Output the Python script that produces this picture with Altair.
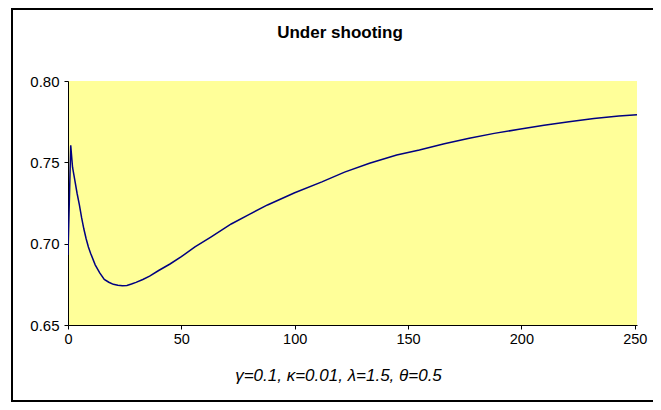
import altair as alt
import pandas as pd

# ---- data ----
t_vals = [0, 1.2, 2, 3, 4, 5, 6, 7, 8, 9, 10, 12, 14, 16, 18, 20, 22, 24, 26, 28,
          30, 33, 36, 40, 45, 50, 56, 63, 72, 80, 88, 100, 112, 122, 133, 145,
          155, 166, 177, 188, 199, 210, 221, 232, 243, 251]
v_vals = [0.693, 0.7605, 0.747, 0.739, 0.731, 0.724, 0.716, 0.709, 0.703, 0.698,
          0.694, 0.687, 0.682, 0.678, 0.6763, 0.675, 0.6744, 0.6741, 0.6743, 0.6752,
          0.6762, 0.678, 0.680, 0.6835, 0.6875, 0.692, 0.698, 0.704, 0.7121, 0.718,
          0.7238, 0.7313, 0.738, 0.744, 0.7494, 0.7545, 0.7576, 0.7614, 0.7648,
          0.7678, 0.7703, 0.7728, 0.7750, 0.7769, 0.7785, 0.7792]

chart_title = "Under shooting"
x_title = "γ=0.1, κ=0.01, λ=1.5, θ=0.5"
x_ticks = [0, 50, 100, 150, 200, 250]
y_ticks = [0.65, 0.70, 0.75, 0.80]

FONT = "Liberation Sans"

df = pd.DataFrame({"t": t_vals, "v": v_vals})

line = alt.Chart(df).mark_line(color="#000080", strokeWidth=1.5, clip=True).encode(
    x=alt.X(
        "t:Q",
        scale=alt.Scale(domain=[0, 251], nice=False, zero=False),
        axis=alt.Axis(
            values=x_ticks, format="d", title=x_title, grid=False,
            labelFont=FONT, labelFontSize=14.5, labelColor="black",
            labelPadding=3, labelFlush=False,
            tickColor="black", tickSize=4, domainColor="black",
            titleFont=FONT, titleFontSize=17, titleFontStyle="italic",
            titleFontWeight="normal", titleColor="black",
            titleX=270, titleY=42, titleBaseline="top",
        ),
    ),
    y=alt.Y(
        "v:Q",
        scale=alt.Scale(domain=[0.65, 0.80], nice=False, zero=False),
        axis=alt.Axis(
            values=y_ticks, format=".2f", title=None, grid=False,
            labelFont=FONT, labelFontSize=15, labelColor="black",
            labelPadding=5, labelFlush=False,
            tickColor="black", tickSize=4, domainColor="black",
        ),
    ),
)

one_row = alt.Data(values=[{"a": 1}])

border = alt.Chart(one_row).mark_rect(
    fillOpacity=0, stroke="black", strokeWidth=2
).encode(
    x=alt.value(-56), x2=alt.value(700), y=alt.value(-72), y2=alt.value(320)
)

title_mark = alt.Chart(one_row).mark_text(
    text=chart_title, font=FONT, fontSize=17, fontWeight="bold",
    color="black", align="center", baseline="alphabetic"
).encode(x=alt.value(272), y=alt.value(-43))

chart = alt.layer(border, title_mark, line).properties(
    width=569,
    height=244,
    autosize=alt.AutoSizeParams(type="none"),
    padding={"left": 60, "top": 73, "right": 16, "bottom": 77},
    background="white",
).configure_view(fill="#FFFF99", strokeWidth=0)

chart.save("out.html", embed_options={"renderer": "svg", "actions": False})
